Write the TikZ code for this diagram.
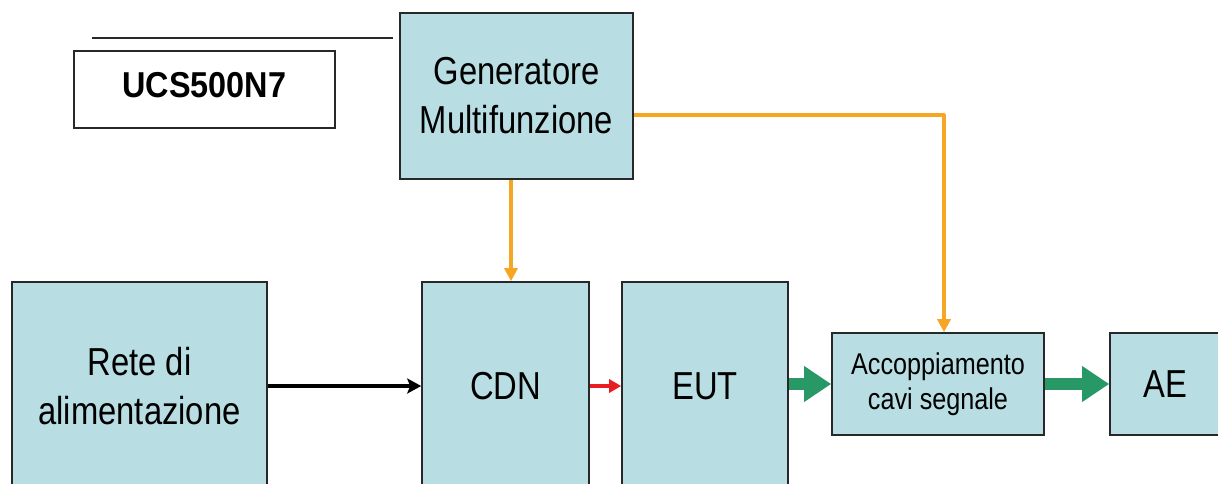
\documentclass[tikz,border=0pt]{standalone}
\usepackage{fontspec}
\setmainfont{Liberation Sans}
\newfontfamily\boxfont[FakeStretch=0.84]{Liberation Sans}
\newfontfamily\titlefont[FakeStretch=0.9]{Liberation Sans}
\usepackage{tikz}
\usetikzlibrary{positioning,arrows.meta,calc}

\definecolor{boxfill}{RGB}{184,222,228}
\definecolor{boxline}{RGB}{40,40,40}
\definecolor{genline}{RGB}{247,166,35}
\definecolor{sigline}{RGB}{40,152,102}
\definecolor{cdnline}{RGB}{232,30,35}

\begin{document}
\begin{tikzpicture}[x=1pt,y=-1pt,
  block/.style={draw=boxline,fill=boxfill,line width=1.6pt,inner sep=0pt,align=center,
    font=\boxfont\fontsize{39}{49}\selectfont},
  powerarrow/.style={line width=3.6pt,-{Stealth[length=14pt,width=15pt,inset=3pt]}},
  surgearrow/.style={cdnline,line width=3.6pt,-{Triangle[length=12pt,width=13pt]}},
  feedarrow/.style={genline,line width=3.2pt,-{Triangle[length=13pt,width=13pt]}},
  signalarrow/.style={sigline,line width=12pt,-{Triangle[length=27pt,width=34pt]}}]
\useasboundingbox (0,0) rectangle (1218,483);
\clip (0,0) rectangle (1218,483);
% title
\coordinate (rulestart) at (92,38);
\coordinate (ruleend) at (393,38);
\draw[line width=1.5pt,boxline] (rulestart) -- (ruleend);
\node[draw=boxline,fill=white,line width=1.5pt,minimum width=261pt,minimum height=77pt,
  text depth=10pt,font=\titlefont\bfseries\fontsize{36}{40}\selectfont] (ucs) at (204.5,89.5) {UCS500N7};
% blocks
\node[block,minimum width=233pt,minimum height=166pt] (gen) at (516.5,96) {Generatore\\Multifunzione};
\node[block,minimum width=255pt,minimum height=208pt] (rete) at (139.5,386) {Rete di\\alimentazione};
\node[block,minimum width=167pt,minimum height=208pt] (cdn) at (505.5,386) {CDN};
\node[block,minimum width=166pt,minimum height=208pt] (eut) at (705,386) {EUT};
\node[block,minimum width=212pt,minimum height=102pt,font=\boxfont\fontsize{30}{35}\selectfont]
  (acc) at (938,384) {Accoppiamento\\cavi segnale};
\node[block,minimum width=110pt,minimum height=102pt] (ae) at (1165,384) {AE};
% connections
\draw[powerarrow] (rete.east) -- (cdn.west);
\draw[surgearrow] (cdn.east) -- (eut.west);
\draw[feedarrow] ([xshift=-5.5pt]gen.south) -- ([xshift=-5.5pt]gen.south |- cdn.north);
\draw[feedarrow,line join=round] ([yshift=-19pt]gen.east) -| ([xshift=6pt]acc.north);
\draw[signalarrow] (acc.west -| eut.east) -- (acc.west);
\draw[signalarrow] (acc.east) -- (ae.west);
\end{tikzpicture}
\end{document}
